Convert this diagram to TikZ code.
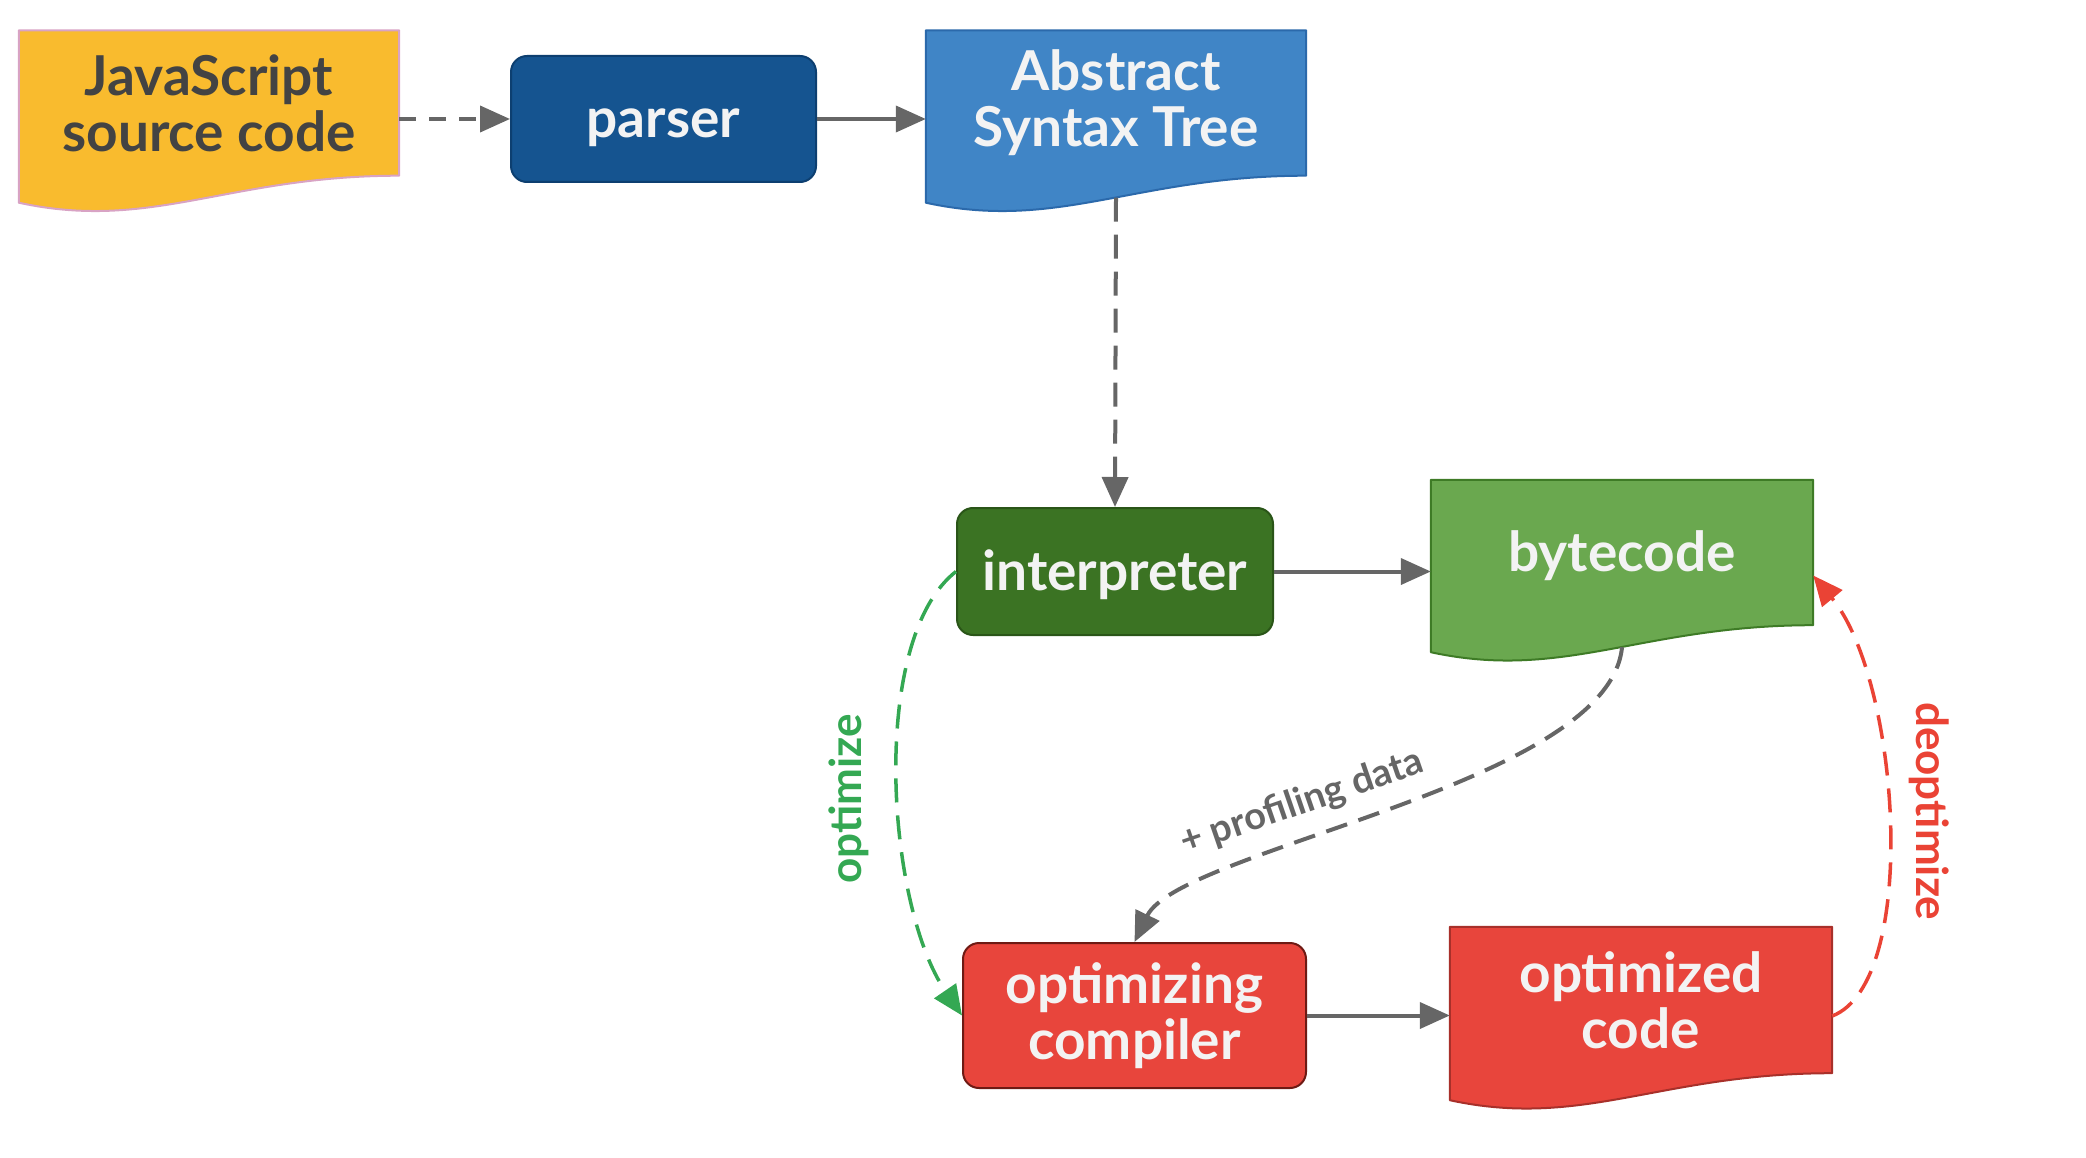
\documentclass[tikz,border=0pt]{standalone}
\usepackage{fontspec}
\setmainfont{Lato}
\usetikzlibrary{arrows.meta,backgrounds,calc}
\definecolor{jsF}{HTML}{F9BB2E}
\definecolor{jsB}{HTML}{D8A3C4}
\definecolor{parF}{HTML}{155490}
\definecolor{parB}{HTML}{0D3F70}
\definecolor{astF}{HTML}{4085C6}
\definecolor{astB}{HTML}{2B69AB}
\definecolor{intF}{HTML}{3B7323}
\definecolor{intB}{HTML}{2A5518}
\definecolor{bytF}{HTML}{6AA84F}
\definecolor{bytB}{HTML}{3E7B26}
\definecolor{redF}{HTML}{E8453C}
\definecolor{redB}{HTML}{6E1A14}
\definecolor{redBB}{HTML}{A8302A}
\definecolor{txtW}{HTML}{F3F3F3}
\definecolor{txtD}{HTML}{434343}
\definecolor{gry}{HTML}{666666}
\definecolor{grn}{HTML}{34A853}
\definecolor{rdl}{HTML}{EA4335}
\newcommand\wavedoc[4]{%
  \path[fill=#3, draw=#4, line width=2pt, line join=round]
    (#1.north west) -- (#1.north east) -- (#1.south east)
    .. controls ([xshift={-0.45*#2pt}]#1.south east) and ([xshift={0.35*#2pt}, yshift=-56pt]#1.south west)
    .. ([yshift=-27pt]#1.south west) -- cycle;}
\begin{document}
\begin{tikzpicture}[x=1pt,y=-1pt,
  lbl/.style={font=\fontsize{55}{56}\selectfont\bfseries, align=center, text=txtW, inner sep=0pt},
  oneline/.style={text height=42pt, text depth=4pt},
  proc/.style={lbl, rectangle, rounded corners=16pt, line width=2pt},
  docbox/.style={lbl, rectangle},
  conn/.style={draw=gry, line width=4pt, -{Triangle[length=30pt,width=26pt]}},
  dsh/.style={dash pattern=on 24pt off 13pt},
  edgelbl/.style={font=\fontsize{44}{46}\selectfont\bfseries, inner sep=0pt},
  proflbl/.style={font=\fontsize{38}{40}\selectfont\bfseries, inner sep=0pt, text=gry}
]
\useasboundingbox (0,0) rectangle (2086,1158);

% nodes
\node[docbox, minimum width=380pt, minimum height=145pt, text=txtD] (js) at (209,103) {JavaScript\\source code};
\node[proc, oneline, fill=parF, draw=parB, minimum width=305pt, minimum height=126pt] (parser) at (663.5,119) {parser};
\node[docbox, minimum width=380pt, minimum height=145pt] (ast) at (1116,103) {Abstract\\Syntax Tree};
\node[proc, oneline, fill=intF, draw=intB, minimum width=316pt, minimum height=127pt] (interp) at (1115,571.5) {interpreter};
\node[docbox, oneline, minimum width=382pt, minimum height=145pt] (byte) at (1622,552.5) {bytecode};
\node[proc, fill=redF, draw=redB, minimum width=343pt, minimum height=145pt] (comp) at (1134.5,1015.5) {optimizing\\compiler};
\node[docbox, minimum width=382pt, minimum height=146pt] (opt) at (1641,1000) {optimized\\code};

\begin{pgfonlayer}{background}
  \wavedoc{js}{380}{jsF}{jsB}
  \wavedoc{ast}{380}{astF}{astB}
  \wavedoc{byte}{382}{bytF}{bytB}
  \wavedoc{opt}{382}{redF}{redBB}
\end{pgfonlayer}

% connectors
\draw[conn, dash pattern=on 17pt off 13pt] (js.east |- parser.west) -- (parser.west);
\draw[conn] (parser.east) -- (parser.east -| ast.west);
\draw[conn, dsh] ([yshift=-22pt]ast.south) -- (interp.north);
\draw[conn] (interp.east) -- (interp.east -| byte.west);
\draw[conn] (comp.east) -- (comp.east -| opt.west);
\draw[conn, dash pattern=on 22pt off 12pt] ([yshift=-22pt]byte.south)
  .. controls +(-13,138) and +(45,-93) .. (comp.north)
  node[pos=0.61, rotate=19, anchor=south, proflbl, inner sep=20pt] {+ profiling data};
\draw[conn, draw=grn, line width=3.5pt, dsh] (interp.west)
  .. controls +(-87,68) and +(-76,-111) .. (comp.west)
  node[pos=0.54, rotate=90, anchor=south, edgelbl, text=grn, inner sep=28pt] {optimize};
\draw[conn, draw=rdl, line width=3.5pt, dsh] ([yshift=-16pt]opt.east)
  .. controls +(88,-34) and +(87,105) .. ([yshift=-23pt]byte.east)
  node[pos=0.52, rotate=-90, anchor=south, edgelbl, text=rdl, inner sep=20pt] {deoptimize};
\end{tikzpicture}
\end{document}
